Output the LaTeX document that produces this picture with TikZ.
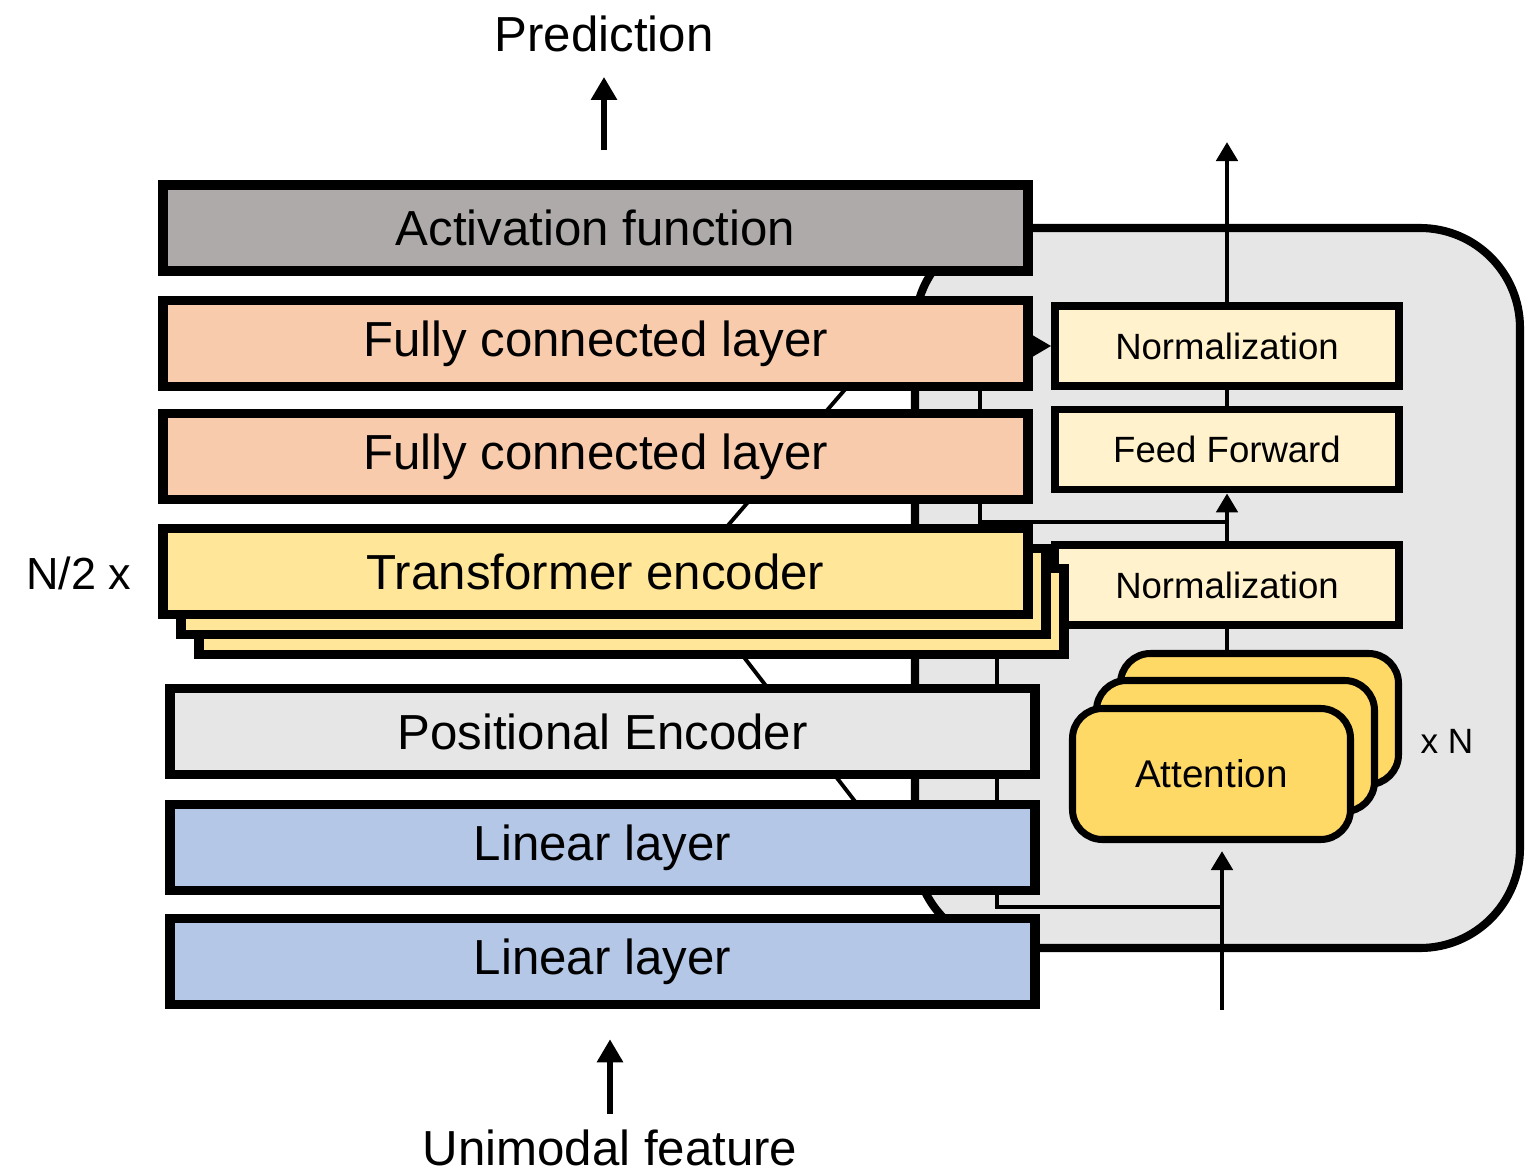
\documentclass[tikz,border=0pt]{standalone}
\usepackage{fontspec}
\setmainfont{Liberation Sans}
\usetikzlibrary{arrows.meta}
\definecolor{actgrey}{HTML}{AEAAAA}
\definecolor{fcsalmon}{HTML}{F8CBAD}
\definecolor{tfyellow}{HTML}{FFE699}
\definecolor{posgrey}{HTML}{E7E6E6}
\definecolor{linblue}{HTML}{B4C7E7}
\definecolor{subcream}{HTML}{FFF2CC}
\definecolor{attnyellow}{HTML}{FFD966}
\definecolor{panelgrey}{HTML}{E6E6E6}
\tikzset{
     layer/.style={draw, fill=#1, rectangle, line width=2.7pt,
        minimum width=8.65cm, minimum height=0.86cm, inner sep=0pt,
        font=\fontsize{14}{16}\selectfont},
     layer1/.style={layer=actgrey},
     layer2/.style={layer=fcsalmon},
     layer3/.style={layer=tfyellow},
     layer4/.style={layer=posgrey},
     layer5/.style={layer=linblue},
     sub/.style={draw, fill=subcream, line width=2.2pt,
        minimum width=3.44cm, minimum height=0.80cm, inner sep=0pt,
        font=\fontsize{10.4}{12}\selectfont},
     attn/.style={draw, fill=attnyellow, line width=2pt, rounded corners=0.3cm,
        minimum width=2.78cm, minimum height=1.31cm, inner sep=0pt,
        font=\fontsize{11}{13}\selectfont},
     panel/.style={draw, fill=panelgrey, line width=2.3pt, rounded corners=1cm},
     link/.style={line width=1.1pt},
     flow/.style={line width=1.4pt},
     bigflow/.style={line width=1.7pt, -{Triangle[length=0.23cm,width=0.25cm]}},
}
\tikzset{>={Triangle[length=0.19cm,width=0.21cm]}}

\begin{document}
\begin{tikzpicture}[x=1cm, y=-1cm]
     \useasboundingbox (0,0) rectangle (15.38,11.72);

     % zoom lines from the encoder stack to the block
     \coordinate (zt1) at (7.24,5.30);
     \coordinate (zt2) at (9.84,2.28);
     \coordinate (zb1) at (7.43,6.56);
     \coordinate (zb2) at (9.68,9.48);
     \draw[link] (zt1) -- (zt2);
     \draw[link] (zb1) -- (zb2);

     % encoder block
     \draw[panel] (9.15,2.28) rectangle (15.20,9.48);

     \node[sub] (nu) at (12.27,3.46) {Normalization};
     \node[sub] (ff) at (12.27,4.495) {Feed Forward};
     \node[sub] (nl) at (12.27,5.85) {Normalization};
     \foreach \i/\dx/\dy in {3/0.48/0.55, 2/0.24/0.28}{
          \node[attn] (at\i) at (12.115+\dx, 7.74-\dy) {};
     }
     \node[attn] (at1) at (12.115,7.74) {Attention};
     \node[font=\fontsize{10}{12}\selectfont] (xn) at (14.47,7.41) {x N};

     \coordinate (out) at (12.28,1.42);
     \coordinate (in) at (12.22,10.10);
     \coordinate (res1) at (12.27,5.22);
     \coordinate (res2) at (12.22,9.07);
     \draw[flow,->] (nu.north) -- (nu.north |- out);
     \draw[flow] (nu.south) -- (ff.north);
     \draw[flow,->] (nl.north) -- (ff.south);
     \draw[flow] (nl.south) -- (nl.south |- at3.north);
     \draw[flow,->,shorten >=0.08cm] (in) -- (in |- at1.south);
     % residual paths
     \draw[link,->] (res1) -| (9.80,4.0) |- (nu.west);
     \draw[link,->] (res2) -| (9.97,7.0) |- (nl.west);

     % main stack
     \node[layer1] (act) at (5.955,2.28) {Activation function};
     \node[layer2] (fc1) at (5.955,3.435) {Fully connected layer};
     \node[layer2] (fc2) at (5.955,4.565) {Fully connected layer};
     \foreach \i/\s in {3/2, 2/1}{
          \node[layer3] (te\i) at (5.955+0.18*\s, 5.715+0.20*\s) {};
     }
     \node[layer3] (te) at (5.955,5.715) {Transformer encoder};
     \node[layer4] (pos) at (6.025,7.315) {Positional Encoder};
     \node[layer5] (lin1) at (6.025,8.475) {Linear layer};
     \node[layer5] (lin2) at (6.025,9.615) {Linear layer};

     \node[font=\fontsize{12.8}{15}\selectfont] (rep) at (0.79,5.73) {N/2 x};

     \node[anchor=base, font=\fontsize{14}{16}\selectfont] (pred) at (6.04,0.52) {Prediction};
     \node[anchor=base, font=\fontsize{14}{16}\selectfont] (feat) at (6.10,11.65) {Unimodal feature};
     \draw[bigflow, shorten <=0.30cm, shorten >=0.12cm] (pred.south |- act.north) -- (pred.south);
     \draw[bigflow, shorten <=0.03cm, shorten >=0.30cm] (feat.north) -- (feat.north |- lin2.south);
\end{tikzpicture}
\end{document}
